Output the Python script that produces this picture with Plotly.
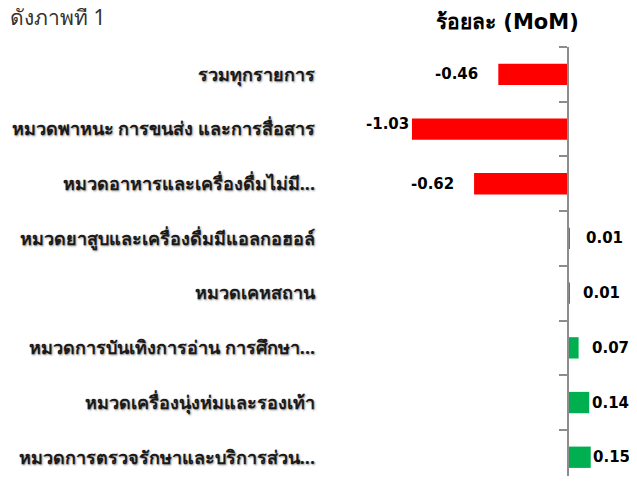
import plotly.graph_objects as go

categories = [
    "รวมทุกรายการ",
    "หมวดพาหนะ การขนส่ง และการสื่อสาร",
    "หมวดอาหารและเครื่องดื่มไม่มี...",
    "หมวดยาสูบและเครื่องดื่มมีแอลกอฮอล์",
    "หมวดเคหสถาน",
    "หมวดการบันเทิงการอ่าน การศึกษา...",
    "หมวดเครื่องนุ่งห่มและรองเท้า",
    "หมวดการตรวจรักษาและบริการส่วน...",
]
values = [-0.46, -1.03, -0.62, 0.01, 0.01, 0.07, 0.14, 0.15]
value_labels = ["-0.46", "-1.03", "-0.62", "0.01", "0.01", "0.07", "0.14", "0.15"]

title_text = "ร้อยละ (MoM)"
caption_text = "ดังภาพที่ 1"

# the page body adds an 8px offset, so figure coordinates = screen - 8
W, H = 637, 468
ML, MR, MT, MB = 332, 0, 39, 0
PW, PH = W - ML - MR, H - MT - MB
SCALE = 151.5  # px per unit
ZERO_PX = 568 - 8 - ML
x_range = [-ZERO_PX / SCALE, (PW - ZERO_PX) / SCALE]
ROW_PX = 54.7
y_rng = [-0.5 + PH / ROW_PX, -0.5]  # reversed category axis

colors = ["#FF0000" if v < 0 else "#00B050" for v in values]

fig = go.Figure()
fig.add_trace(go.Bar(
    x=values, y=categories, orientation="h",
    marker=dict(color=colors, line=dict(width=0)),
    width=0.39, hoverinfo="skip", showlegend=False,
))
# invisible trace to carry the zero-line axis
fig.add_trace(go.Scatter(
    x=[0] * len(categories), y=categories, yaxis="y2",
    mode="markers", marker=dict(opacity=0), hoverinfo="skip", showlegend=False,
))

label_dx = [-18, -1, -18, 14, 11, 11, 1, 0]
label_dy = [0, 5, 0, 0, 0, 0, 0, 0]
for cat, v, lab, dx, dy in zip(categories, values, value_labels, label_dx, label_dy):
    fig.add_annotation(
        x=v, y=cat, text=f"<b>{lab}</b>", showarrow=False,
        xanchor="right" if v < 0 else "left", xshift=dx, yshift=dy,
        font=dict(family="DejaVu Sans, sans-serif", size=15, color="#000000"),
    )

zero_pos = (0 - x_range[0]) / (x_range[1] - x_range[0])

fig.add_annotation(
    x=(507 - 8 - ML) / PW, y=1 + (39 + 8 - 22) / PH, xref="paper", yref="paper",
    text=f"<b>{title_text}</b>", showarrow=False, xanchor="center", yanchor="middle",
    font=dict(family="DejaVu Sans, sans-serif", size=21, color="#000000"),
)
fig.add_annotation(
    x=(0 - ML) / PW, y=1 + (39 + 8 - 17) / PH,
    xref="paper", yref="paper",
    text=caption_text, showarrow=False, xanchor="left", yanchor="middle",
    font=dict(family="Noto Sans, sans-serif", size=21, color="#333333"),
)

fig.update_layout(
    width=W, height=H,
    margin=dict(l=ML, r=MR, t=MT, b=MB, pad=0),
    paper_bgcolor="white", plot_bgcolor="white",
    xaxis=dict(range=x_range, showgrid=False, zeroline=False, showticklabels=False,
               showline=False, ticks=""),
    yaxis=dict(range=y_rng, showgrid=False, zeroline=False,
               showline=False, ticks="", automargin=False, ticklabelstandoff=24,
               tickfont=dict(family="Noto Sans, sans-serif", size=18, color="#1a1a1a",
                             weight="bold", shadow="1px 1px 2px #9a9a9a")),
    yaxis2=dict(overlaying="y", anchor="free", position=zero_pos, side="left",
                range=y_rng, showgrid=False, zeroline=False,
                showline=True, linecolor="#8C8C8C", linewidth=2,
                ticks="outside", ticklen=8, tickwidth=2, tickcolor="#8C8C8C",
                tickson="boundaries", showticklabels=False),
)

fig.write_html("out.html")
